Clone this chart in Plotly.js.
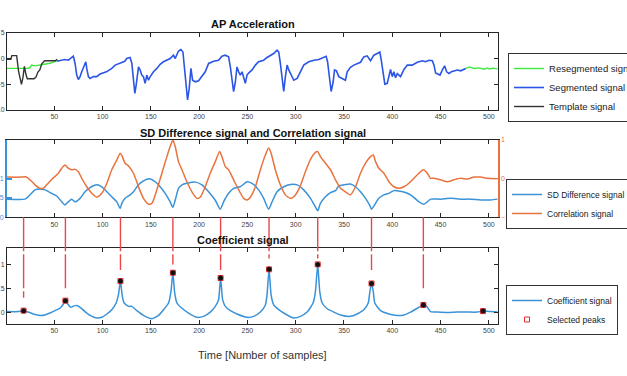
<!DOCTYPE html>
<html>
<head>
<meta charset="utf-8">
<script src="https://cdn.plot.ly/plotly-3.0.1.min.js"></script>
<style>html,body{margin:0;padding:0;background:#fff;}#chart{width:627px;height:376px;}</style>
</head>
<body>
<div id="chart"></div>
<script>
// ---------- Data ----------
const xTicks = [50,100,150,200,250,300,350,400,450,500];

// Panel 1: AP Acceleration
const templateX = [1,5,6,11,13,14.5,16,17.5,19,20.5,22,29,31,33,35,37,40,51,53];
const templateY = [-0.1,-0.1,0.6,0.6,-2.5,-3.5,-5.0,-3.7,-1.5,-3.0,-3.9,-3.9,-3.6,-2.6,-2.2,-1.0,-0.4,-0.4,-0.1];

const resegX = [1,23,25,26.5,30,33.5,40,45.5,51,53,null,476.1,479.6,484.8,490,495,498.7,500.5,504,509];
const resegY = [-1.9,-1.9,-1.7,-1.25,-1.4,-1.3,-1.1,-0.9,-0.55,-0.25,null,-1.9,-1.6,-1.9,-1.8,-2.05,-1.8,-2.0,-1.85,-2.0];

const segX = [52.5,56,61,64.5,68,69.7,71.5,73.2,74.9,76.7,78.4,80.8,82.6,83.6,85.3,87,90.5,94,97.4,104,109.5,113,118,123,125,128.5,130.3,132,133.4,134.8,137.2,138.9,140.6,142.3,144,145.8,147.5,149.3,152.7,156.2,159.6,163,166,170,173.4,175.2,178.6,181.1,183.2,184.5,186.3,188,189.7,191.5,193.2,196,199.4,202.9,206.3,209.8,215,220.1,223.6,227,230.5,232.3,234,235.7,237.5,239.2,240.9,242.6,244.4,246.1,247.8,249.6,251.2,254.8,258.2,261.6,266.8,270.3,273.7,277.2,280.7,282.4,284.1,285.9,287.6,289.3,291.1,292.8,294.5,296.3,298,301.5,305,308.3,313.5,318.7,323.9,329,331.5,333,334.5,336.7,338.8,340.2,342.2,344.6,348.1,351.5,353.3,356.7,360.2,363.6,367.1,370.5,374,377.5,380.9,384.4,387.1,388.6,390.3,392.3,394.8,396.5,398.2,400,401.7,403.4,405.2,408.6,412.1,415.6,420.7,425.9,431.1,434.5,438,441.5,443.2,444.9,446.7,449.4,451.9,454.2,456.3,458.7,461.2,463.9,467.4,470.9,476.1];
const segY = [-0.49,-0.4,-0.16,-0.3,0.35,0.48,-0.93,-3.2,-4.05,-3.5,-2.56,-1.6,-0.6,-1.9,-3.5,-3.85,-3.5,-3.5,-3.0,-2.56,-1.9,-1.26,-0.8,-0.5,0.03,0.23,-0.93,-4.5,-6.76,-5.1,-1.6,-2.2,-3.2,-3.5,-4.8,-3.2,-4.2,-3.5,-2.56,-1.9,-1.1,-0.6,-0.3,0.03,0.68,0.03,1.5,1.78,1.3,-1.6,-5.8,-8.05,-5.8,-1.9,-4.2,-4.5,-4.3,-3.5,-2.56,-0.93,-0.5,-0.3,0.48,0.68,0.35,-1.6,-4.2,-6.4,-4.5,-1.6,-2.56,-3.2,-2.56,-3.5,-4.8,-3.2,-2.8,-2.2,-1.26,-0.6,-0.3,0.23,0.68,1.0,1.65,1.3,-0.93,-4.2,-6.4,-3.5,-1.26,-2.2,-2.9,-3.85,-4.2,-3.85,-2.56,-1.26,-0.6,-0.3,-0.16,0.23,0.45,-0.6,-2.87,-6.4,-4.5,-2.2,-2.37,-3.5,-3.85,-4.2,-2.56,-1.7,-1.26,-0.93,-0.7,0.35,0.55,-0.4,0.68,1.0,1.3,-0.3,-2.87,-4.95,-4.8,-3.5,-2.1,-3.5,-2.56,-3.7,-2.9,-3.5,-2.1,-1.26,-1.26,-0.7,-0.4,-0.6,-0.3,-0.4,-1.26,-2.8,-2.9,-3.2,-2.2,-1.4,-2.56,-2.9,-2.56,-2.37,-2.2,-2.37,-1.9];

// Panel 2: SD Difference signal (left axis) and Correlation signal (right axis)
const sdX = [1,19.6,24.8,30,35.2,40.4,45.5,52.5,57.7,61.1,64.5,68,71.5,76.7,81.8,87,94,99.2,104.4,109.5,114.7,118.2,119.9,123.3,128.5,132,137.2,142.3,148.2,154.5,159.6,164.8,170,172.8,175.2,178.6,182.2,187.3,196,202.9,209.8,216.7,221.9,225.3,230.5,235.7,242.6,249.6,254.8,261.6,266.8,272,275.5,280.7,287.6,294.5,301.5,308.3,315.3,320.4,322.8,325.6,330.8,336,341.2,344.6,349.8,356.7,361.9,367.1,372.3,376.4,378.5,380.9,386.1,391.3,396.5,401.7,406.9,413.8,420.7,427.6,432.8,436.3,439.7,450.1,460.5,470.9,481.3,491.6,502,509];
const sdY = [0.47,0.47,0.58,0.71,0.73,0.71,0.64,0.55,0.40,0.32,0.40,0.47,0.40,0.49,0.66,0.77,0.84,0.79,0.66,0.53,0.40,0.23,0.36,0.49,0.58,0.66,0.84,0.94,1.0,0.92,0.79,0.62,0.40,0.26,0.44,0.75,0.84,0.88,0.91,0.84,0.66,0.44,0.21,0.40,0.62,0.75,0.79,0.92,0.88,0.71,0.49,0.21,0.40,0.66,0.79,0.85,0.84,0.71,0.49,0.27,0.17,0.36,0.53,0.64,0.69,0.81,0.84,0.86,0.79,0.66,0.49,0.32,0.21,0.29,0.49,0.58,0.62,0.69,0.68,0.64,0.55,0.40,0.34,0.40,0.47,0.47,0.49,0.47,0.47,0.45,0.45,0.47];

const corrX = [1,16,20.6,24.8,30,35.2,38.6,42.1,47.3,54.2,57.7,61.1,64.5,68,71.5,74.9,78.4,83.6,88.8,94,99.2,104.4,109.5,114.7,118.2,119.9,123.3,126.8,132,137.2,142.3,147.5,151,156.2,161.4,166.6,170,172.8,175.2,178.6,182.2,187.3,192.5,197.7,201.1,206.3,211.5,216.7,221.2,223.6,227.1,230.5,235.7,240.9,246.1,249.6,253,258.2,263.4,268.6,272,274.5,278.9,284.1,289.3,294.5,299.7,304.9,310,315.3,320.4,322.8,325.6,330.8,336,341.2,346.4,351.5,356.7,361.9,367.1,372.3,377.5,380.3,382.7,386.1,391.3,396.5,401.7,406.9,412.1,417.2,422.4,427.6,432.2,436.3,439.7,443.2,450.1,457,463.9,470.9,477.8,484.6,491.6,498.5,509];
const corrY = [0.04,0.04,0.05,-0.03,-0.16,-0.25,-0.25,-0.16,-0.02,0.14,0.27,0.35,0.27,0.23,0.24,0.18,0.01,-0.21,-0.38,-0.48,-0.38,-0.12,0.23,0.48,0.66,0.6,0.4,0.33,0.14,-0.21,-0.51,-0.66,-0.64,-0.29,0.14,0.57,0.83,1.0,0.83,0.44,0.23,-0.08,-0.34,-0.51,-0.48,-0.21,0.14,0.44,0.7,0.57,0.31,0.23,-0.03,-0.29,-0.51,-0.55,-0.48,-0.21,0.23,0.61,0.79,0.66,0.23,-0.16,-0.42,-0.51,-0.42,-0.18,0.18,0.5,0.68,0.7,0.57,0.4,0.23,-0.03,-0.25,-0.34,-0.42,-0.21,0.14,0.4,0.57,0.61,0.44,0.27,0.14,-0.08,-0.21,-0.25,-0.21,-0.12,0.01,0.14,0.23,0.14,0.01,0.01,-0.03,-0.08,-0.03,0.01,-0.01,0.04,0.04,0.01,0.0];

// Panel 3: Coefficient signal
const coefX = [1,12.7,18.2,23,28.2,35.2,40.4,45.5,50.7,55.9,59.4,61.5,63.9,67,70.4,73.2,76.7,81.8,87,94,99.2,104.4,109.5,114,116.4,118.5,120.2,122.3,126.8,130.3,135.5,142.3,151,157.9,163.1,168.3,170.8,172.8,174.5,177,182.2,189,197.7,204.6,211.5,216.7,220.1,222.2,224.3,227.1,232.3,239.2,249.6,256.5,263.4,268.6,270.3,272.4,274.5,277.2,282.4,289.3,298,304.9,311.8,318,320.4,322.8,324.9,327.4,332.6,339.4,346.4,356.7,363.6,370.5,375.1,376.8,378.5,380.3,381.9,387.9,396.5,405.2,412.1,419,426,432.2,435.6,439.7,446.7,457,467.4,477.8,488.2,494,502,509];
const coefY = [0.01,0.01,0.03,0,-0.04,-0.07,-0.06,-0.02,0.03,0.08,0.17,0.24,0.17,0.10,0.13,0.14,0.10,0.01,-0.07,-0.125,-0.11,-0.04,0.05,0.19,0.36,0.65,0.36,0.19,0.12,0.12,0.03,-0.07,-0.14,-0.07,0.05,0.19,0.43,0.825,0.43,0.19,0.08,-0.02,-0.11,-0.09,0,0.12,0.26,0.715,0.26,0.12,0.03,-0.04,-0.11,-0.09,0,0.15,0.36,0.896,0.36,0.15,0.05,-0.04,-0.125,-0.09,0,0.19,0.43,1.0,0.43,0.19,0.07,0,-0.06,-0.09,-0.04,0.05,0.19,0.43,0.60,0.43,0.19,0.03,-0.04,-0.07,-0.06,0,0.08,0.15,0.12,0.01,0,-0.01,0,0,0,0.02,0.01,0];

const peakX = [18.2,61.5,118.5,172.8,222.2,272.4,322.8,378.5,432.2,494];
const peakY = [0.03,0.24,0.65,0.825,0.715,0.896,1.0,0.60,0.15,0.02];
// top (in coefficient-signal units) of the red marker lines dropped from the panel above
const peakLineTop = [0.30,0.48,0.88,1.0,0.88,1.125,1.125,0.88,0.46];

// ---------- Layout helpers ----------
const FONT = 'Arial, "Liberation Sans", Helvetica, sans-serif';
const dom1 = [0.7354, 1];
const dom2 = [0.3667, 0.6323];
const dom3 = [0, 0.2622];
const y4Range = [-0.25, 1.35];

const AX = '#262626';
const BLUE2 = '#3a92d8';
const ORANGE = '#e8733e';

function xAxis(anchor) {
  return {
    anchor: anchor, domain: [0, 1], range: [1, 509.5],
    tickvals: xTicks, ticks: 'inside', ticklen: 4, tickcolor: AX,
    mirror: 'ticks', showline: true, linecolor: AX, linewidth: 1,
    showgrid: false, zeroline: false,
    tickfont: {family: FONT, size: 7, color: '#444'}
  };
}
function yAxis(domain, range, vals) {
  return {
    domain: domain, range: range, tickvals: vals,
    ticks: 'inside', ticklen: 4, tickcolor: AX,
    mirror: 'ticks', showline: true, linecolor: AX, linewidth: 1,
    showgrid: false, zeroline: false,
    tickfont: {family: FONT, size: 7, color: '#444'}
  };
}

const traces = [
  {x: resegX, y: resegY, xaxis: 'x', yaxis: 'y', mode: 'lines', name: 'Resegmented signal',
   line: {color: '#3be83b', width: 1.4}, legend: 'legend', connectgaps: false},
  {x: segX, y: segY, xaxis: 'x', yaxis: 'y', mode: 'lines', name: 'Segmented signal',
   line: {color: '#2a55e6', width: 1.6}, legend: 'legend'},
  {x: templateX, y: templateY, xaxis: 'x', yaxis: 'y', mode: 'lines', name: 'Template signal',
   line: {color: '#333333', width: 1.4}, legend: 'legend'},

  {x: sdX, y: sdY, xaxis: 'x2', yaxis: 'y2', mode: 'lines', name: 'SD Difference signal',
   line: {color: BLUE2, width: 1.5, shape: 'spline', smoothing: 0.6}, legend: 'legend2'},
  {x: corrX, y: corrY, xaxis: 'x2', yaxis: 'y3', mode: 'lines', name: 'Correlation signal',
   line: {color: ORANGE, width: 1.5, shape: 'spline', smoothing: 0.6}, legend: 'legend2'},

  {x: coefX, y: coefY, xaxis: 'x3', yaxis: 'y4', mode: 'lines', name: 'Coefficient signal',
   line: {color: BLUE2, width: 1.5, shape: 'spline', smoothing: 0.5}, legend: 'legend3'},
  {x: peakX, y: peakY, xaxis: 'x3', yaxis: 'y4', mode: 'markers', name: 'Selected peaks',
   marker: {symbol: 'square-open', size: 5, color: '#e8282d', line: {width: 1, color: '#e8282d'}}, legend: 'legend3'},
  {x: peakX, y: peakY, xaxis: 'x3', yaxis: 'y4', mode: 'markers', showlegend: false, hoverinfo: 'skip',
   marker: {symbol: 'circle', size: 5, color: '#141010'}}
];

function y4ToPaper(v) {
  return dom3[0] + (v - y4Range[0]) / (y4Range[1] - y4Range[0]) * (dom3[1] - dom3[0]);
}
const shapes = peakLineTop.map((top, i) => ({
  type: 'line', xref: 'x3', yref: 'paper',
  x0: peakX[i], x1: peakX[i], y0: dom2[0], y1: y4ToPaper(top),
  line: {color: '#e8484c', width: 1.4, dash: '34px,3px'}, layer: 'above'
}));

const legendBase = {
  xref: 'paper', yref: 'paper', x: 1.0204, xanchor: 'left', yanchor: 'middle',
  bgcolor: '#ffffff', bordercolor: '#333', borderwidth: 1,
  font: {family: FONT, size: 9.5, color: '#1a1a1a'}
};
const smallLegendFont = {family: FONT, size: 8.5, color: '#1a1a1a'};

const layout = {
  width: 627, height: 376,
  margin: {l: 7, r: 129, t: 33, b: 52, autoexpand: false},
  paper_bgcolor: '#ffffff', plot_bgcolor: '#ffffff',
  font: {family: FONT},
  xaxis: xAxis('y'),
  yaxis: yAxis(dom1, [-10, 5], [-10, -5, 0, 5]),
  xaxis2: xAxis('y2'),
  yaxis2: Object.assign(yAxis(dom2, [0, 2], [0, 0.5, 1]), {
    mirror: false, linecolor: BLUE2, linewidth: 2, tickcolor: BLUE2, tickwidth: 2, ticklen: 5,
    tickfont: {family: FONT, size: 7, color: BLUE2}
  }),
  yaxis3: Object.assign(yAxis(dom2, [-1, 1], [-1, 0, 1]), {
    overlaying: 'y2', side: 'right', anchor: 'x2', mirror: false,
    linecolor: ORANGE, linewidth: 1.5, tickcolor: ORANGE,
    tickfont: {family: FONT, size: 7, color: ORANGE}
  }),
  xaxis3: xAxis('y4'),
  yaxis4: yAxis(dom3, y4Range, [0, 0.5, 1]),
  legend: Object.assign({}, legendBase, {y: 0.8127}),
  legend2: Object.assign({}, legendBase, {x: 1.0163, y: 0.4124, font: smallLegendFont}),
  legend3: Object.assign({}, legendBase, {x: 1.0163, y: 0.0481, font: smallLegendFont}),
  shapes: shapes,
  annotations: [
    {text: '<b>AP Acceleration</b>', xref: 'paper', yref: 'paper', x: 0.5, y: 1.031,
     xanchor: 'center', yanchor: 'middle', showarrow: false, font: {family: FONT, size: 11, color: '#111'}},
    {text: '<b>SD Difference signal and Correlation signal</b>', xref: 'paper', yref: 'paper', x: 0.5, y: 0.6574,
     xanchor: 'center', yanchor: 'middle', showarrow: false, font: {family: FONT, size: 11, color: '#111'}},
    {text: '<b>Coefficient signal</b>', xref: 'paper', yref: 'paper', x: 0.4807, y: 0.2887,
     xanchor: 'center', yanchor: 'middle', showarrow: false, font: {family: FONT, size: 11, color: '#111'}},
    {text: 'Time [Number of samples]', xref: 'paper', yref: 'paper', x: 0.52, y: -0.1065,
     xanchor: 'center', yanchor: 'middle', showarrow: false, font: {family: FONT, size: 11, color: '#333'}}
  ],
  showlegend: true
};

Plotly.newPlot('chart', traces, layout, {displayModeBar: false, staticPlot: true});
</script>
</body>
</html>
